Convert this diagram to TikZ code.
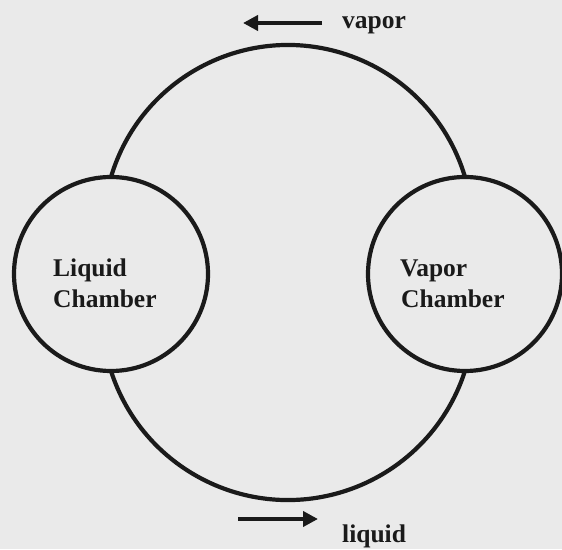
\documentclass[tikz,border=0pt]{standalone}
\usepackage{fontspec}
\setmainfont{Liberation Serif}
\usetikzlibrary{arrows.meta}
\definecolor{bgcol}{RGB}{234,234,234}
\definecolor{ink}{RGB}{26,26,26}
\tikzset{
  chamber/.style={circle, draw=ink, line width=4.2pt, minimum size=194pt, inner sep=0pt, outer sep=0pt},
  pipe/.style={draw=ink, line width=4.2pt},
  flowarrow/.style={draw=ink, line width=4.4pt, -{Triangle[length=15pt,width=15pt]}},
  lbl/.style={text=ink, font=\bfseries\fontsize{25.5}{31}\selectfont, inner sep=0pt, anchor=base west}
}
\begin{document}
\begin{tikzpicture}[x=1pt,y=1pt]
\fill[bgcol] (0,0) rectangle (562,549);
\useasboundingbox (0,0) rectangle (562,549);
\node[chamber] (liq) at (111,275) {};
\node[chamber] (vap) at (465,275) {};
% connecting pipes
\draw[pipe] (liq.north) arc[start angle=163.42, end angle=16.58, radius=184.7pt];
\draw[pipe] (liq.south) arc[start angle=197.82, end angle=342.18, radius=185.9pt];
% labels
\node[lbl] (liq1) at (53,272) {Liquid};
\node[lbl] (liq2) at (53,241) {Chamber};
\node[lbl] (vap1) at (400,272) {Vapor};
\node[lbl] (vap2) at (401,241) {Chamber};
\node[lbl] (vlab) at (342,520) {vapor};
\node[lbl] (llab) at (342,7) {liquid};
% flow arrows
\coordinate (va0) at (322,526);
\coordinate (va1) at (243,526);
\coordinate (la0) at (238,30);
\coordinate (la1) at (318,30);
\draw[flowarrow] (va0) -- (va1);
\draw[flowarrow] (la0) -- (la1);
\end{tikzpicture}
\end{document}
